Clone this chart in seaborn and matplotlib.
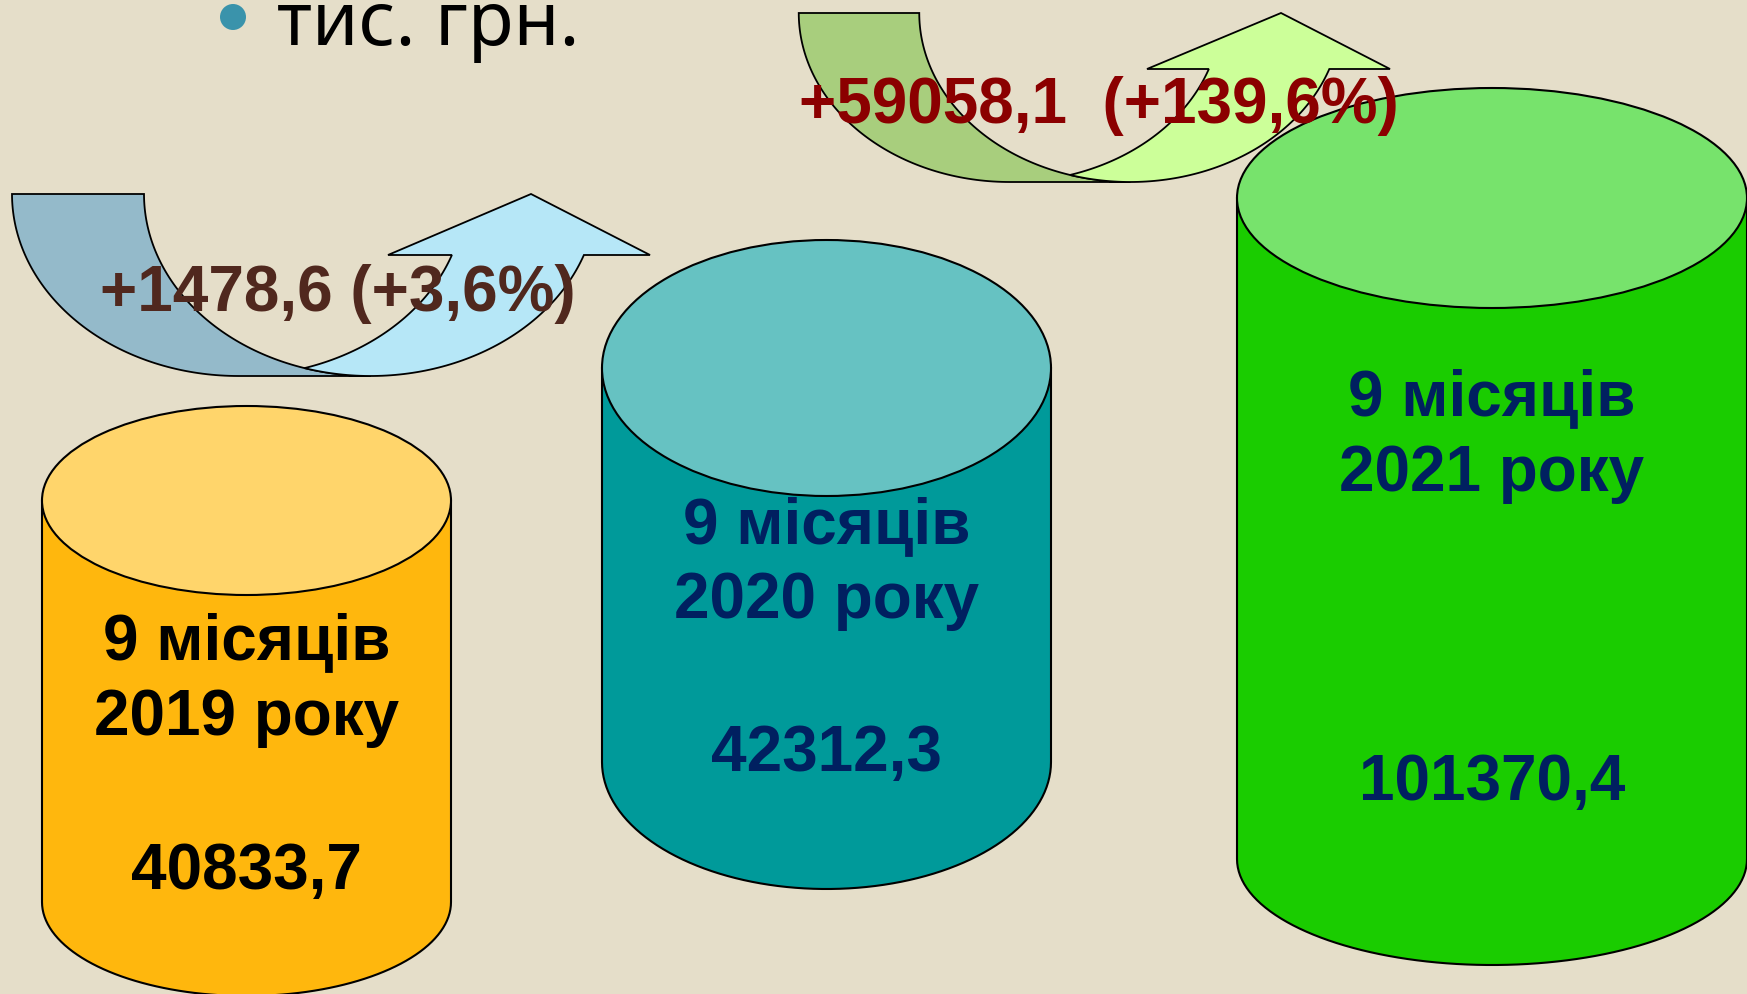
import numpy as np
import seaborn as sns
import matplotlib.pyplot as plt
from matplotlib.patches import Polygon, Ellipse, Circle

# data
years = ['2019', '2020', '2021']
values = [40833.7, 42312.3, 101370.4]
changes = [1478.6, 59058.1]
change_pct = [3.6, 139.6]
unit = 'тис. грн.'

# colours
bg = '#E5DEC9'
body_colors = ['#FFB70D', '#009A9A', '#1ACC00']
top_colors = ['#FFD56B', '#66C2C2', '#77E36C']
text_colors = ['#000000', '#002060', '#002060']
arrow_colors = [('#94BACA', '#B6E7F7'), ('#A8CE7D', '#CCFF99')]
change_colors = ['#50281E', '#8B0000']

# layout in pixels (y grows downward)
cyl_cx = [246.5, 826.5, 1492]
cyl_rx = [204.5, 224.5, 255]
cyl_top = [(501.5, 94.5), (369, 128), (199, 110)]
cyl_bot = [(903, 94), (763, 127), (860, 106)]
label_y = [(659, 735, 889), (543, 618, 771), (415, 491, 800)]

arrows = [
    dict(c1=238.5, c2=370.5, rx=226.5, top=195, ry=182, base=256, wl=388, wr=650, tip=531,
         tx=338, ty=311),
    dict(c1=1009.75, c2=1130.25, rx=211, top=14, ry=169, base=70, wl=1147, wr=1390, tip=1281,
         tx=1099, ty=123),
]

sns.set_theme(style='white', rc={'axes.facecolor': bg, 'figure.facecolor': bg})
plt.rcParams['font.family'] = ['Liberation Sans', 'DejaVu Sans']

fig = plt.figure(figsize=(17.47, 9.95), dpi=100)
ax = fig.add_axes([0, 0, 1, 1])
ax.set_xlim(0, 1747)
ax.set_ylim(995, 0)
ax.axis('off')


def arc(cx, cy, rx, ry, t0, t1, n=80):
    t = np.linspace(t0, t1, n)
    return np.column_stack([cx + rx * np.cos(t), cy + ry * np.sin(t)])


# cylinders
for i in range(3):
    cx, rx = cyl_cx[i], cyl_rx[i]
    ty, try_ = cyl_top[i]
    by, bry = cyl_bot[i]
    body = np.vstack([[[cx - rx, ty]], arc(cx, by, rx, bry, np.pi, 0), [[cx + rx, ty]]])
    ax.add_patch(Polygon(body, closed=True, fc=body_colors[i], ec='black', lw=1.5))
    ax.add_patch(Ellipse((cx, ty), 2 * rx, 2 * try_, fc=top_colors[i], ec='black', lw=1.5))
    y1, y2, y3 = label_y[i]
    kw = dict(ha='center', va='baseline', fontsize=46, fontweight='bold', color=text_colors[i])
    ax.text(cx, y1, '9 місяців', **kw)
    ax.text(cx, y2, f'{years[i]} року', **kw)
    ax.text(cx, y3, f'{values[i]:.1f}'.replace('.', ','), **kw)

# curved up arrows
for j, a in enumerate(arrows):
    c1, c2, rx, top, ry = a['c1'], a['c2'], a['rx'], a['top'], a['ry']
    dark, light = arrow_colors[j]
    back = np.vstack([arc(c1, top, rx, ry, np.pi, np.pi / 2),
                      arc(c2, top, rx, ry, np.pi / 2, np.pi)])
    ax.add_patch(Polygon(back, closed=True, fc=dark, ec='black', lw=1.3))
    d = c2 - c1
    tp = np.arccos(-d / (2 * rx))
    tb = np.arcsin((a['base'] - top) / ry)
    outer = arc(c2, top, rx, ry, tp, tb)
    inner = arc(c1, top, rx, ry, tb, np.pi - tp)
    head = np.array([[a['wr'], a['base']], [a['tip'], top], [a['wl'], a['base']]])
    front = np.vstack([outer, head, inner])
    ax.add_patch(Polygon(front, closed=True, fc=light, ec='black', lw=1.3))
    txt = f'+{changes[j]:.1f}'.replace('.', ',')
    pct = f'(+{change_pct[j]:.1f}%)'.replace('.', ',')
    sep = ' ' if j == 0 else '  '
    ax.text(a['tx'], a['ty'], txt + sep + pct, ha='center', va='baseline', fontsize=46,
            fontweight='bold', color=change_colors[j])

# unit caption with bullet
ax.add_patch(Circle((233, 18), 13, fc='#3A93AB', ec='none'))
ax.text(277, 45, unit, ha='left', va='baseline', fontsize=54, color='black',
        family=['Noto Sans', 'DejaVu Sans'])

fig.savefig('out.png', dpi=100, facecolor=bg)
